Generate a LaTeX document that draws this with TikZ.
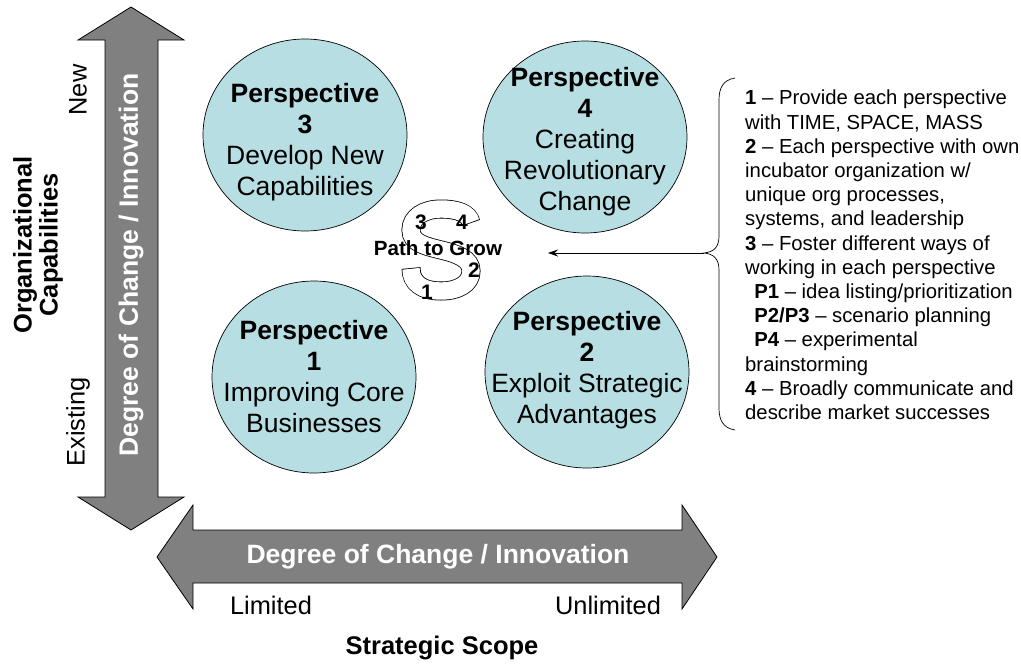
\documentclass[tikz,border=0pt]{standalone}
\usepackage{fontspec}
\setmainfont{Liberation Sans}
\usetikzlibrary{arrows.meta,shapes.geometric}
\definecolor{circfill}{RGB}{183,222,226}
\definecolor{arrfill}{RGB}{128,128,128}
\tikzset{
  persp/.style={ellipse, draw=black, line width=0.7, fill=circfill, minimum width=204, minimum height=192, inner sep=0pt},
  persptext/.style={inner sep=0pt, align=center, font=\fontsize{26.5}{31}\selectfont},
  bigarrow/.style={draw=black, line width=0.8, fill=arrfill, line join=miter},
  arrowtext/.style={white, font=\bfseries\fontsize{26.5}{31}\selectfont, inner sep=0pt},
  axislabel/.style={font=\fontsize{25.4}{30}\selectfont, inner sep=0pt},
  axistitle/.style={font=\bfseries\fontsize{25.5}{26}\selectfont, inner sep=0pt, align=center},
  snum/.style={font=\bfseries\fontsize{21}{24}\selectfont, inner sep=0pt},
  notes/.style={font=\fontsize{20.3}{24.2}\selectfont, inner sep=0pt, align=left, anchor=north west}
}
\begin{document}
\begin{tikzpicture}[x=1pt,y=-1pt]
\useasboundingbox (0,0) rectangle (1021,665);
% vertical axis arrow
\draw[bigarrow] (131,7) -- (184,40) -- (158,40) -- (158,497) -- (184,497) -- (131,530)
  -- (78,497) -- (105,497) -- (105,40) -- (78,40) -- cycle;
\node[arrowtext, rotate=90] (vtext) at (131,265) {Degree of Change / Innovation};
% horizontal axis arrow
\draw[bigarrow] (157,557) -- (193,505) -- (193,530) -- (682,530) -- (682,505) -- (717,557)
  -- (682,609) -- (682,583) -- (193,583) -- (193,609) -- cycle;
\node[arrowtext] (htext) at (438,557) {Degree of Change / Innovation};
% axis labels
\node[axislabel, rotate=90] (new) at (78,90) {New};
\node[axislabel, rotate=90] (existing) at (78,422) {Existing};
\node[axistitle, rotate=90] (orgcap) at (38,245) {Organizational\\Capabilities};
\node[axislabel] (limited) at (271,605) {Limited};
\node[axislabel] (unlimited) at (608,605) {Unlimited};
\node[axistitle] (scope) at (442,648) {Strategic Scope};
% perspectives
\node[persp] (p3) at (305,135) {};
\node[persp] (p4) at (585,137) {};
\node[persp] (p1) at (314,377) {};
\node[persp] (p2) at (587,372) {};
\node[persptext] (p3t) at (305,142) {{\bfseries Perspective}\\{\bfseries 3}\\Develop New\\Capabilities};
\node[persptext] (p4t) at (585,142) {{\bfseries Perspective}\\{\bfseries 4}\\Creating\\Revolutionary\\Change};
\node[persptext] (p1t) at (314,377) {{\bfseries Perspective}\\{\bfseries 1}\\Improving Core\\Businesses};
\node[persptext] (p2t) at (587,370) {{\bfseries Perspective}\\{\bfseries 2}\\Exploit Strategic\\Advantages};
% the S
\def\spath{(471,223) .. controls (469,213) and (457,209) .. (441,209)
  .. controls (424,209) and (411,217) .. (411,230)
  .. controls (411,243) and (425,246) .. (441,250)
  .. controls (458,254) and (471,259) .. (471,271)
  .. controls (471,284) and (458,291) .. (441,291)
  .. controls (422,291) and (411,283) .. (411,268)}
\draw[line width=19, black] \spath;
\draw[line width=17.4, white, shorten >=0.8, shorten <=0.8] \spath;
\node[snum] (n3) at (421,222) {3};
\node[snum] (n4) at (462,222) {4};
\node[snum] (n2) at (474,270) {2};
\node[snum] (n1) at (427,292) {1};
\node[font=\bfseries\fontsize{20.6}{24}\selectfont, inner sep=0pt] (ptg) at (438,248) {Path to Grow};
% notes with brace
\node[notes] (notes) at (745,90) {%
\textbf{1} -- Provide each perspective\\
with TIME, SPACE, MASS\\
\textbf{2} -- Each perspective with own\\
incubator organization w/\\
unique org processes,\\
systems, and leadership\\
\textbf{3} -- Foster different ways of\\
working in each perspective\\
\hspace*{0.45em}\textbf{P1} -- idea listing/prioritization\\
\hspace*{0.45em}\textbf{P2/P3} -- scenario planning\\
\hspace*{0.45em}\textbf{P4} -- experimental\\
brainstorming\\
\textbf{4} -- Broadly communicate and\\
describe market successes};
\coordinate (btip) at (704,253);
\coordinate (aend) at (548,253);
\draw[line width=0.7] (735,78) .. controls (723,80) and (719,88) .. (719,100) -- (719,236)
  .. controls (719,247) and (714,252) .. (btip)
  .. controls (714,254) and (719,259) .. (719,270) -- (719,408)
  .. controls (719,420) and (723,428) .. (735,430);
\draw[line width=0.7, -{Stealth[length=10,width=7]}] (btip) -- (aend);
\end{tikzpicture}
\end{document}
